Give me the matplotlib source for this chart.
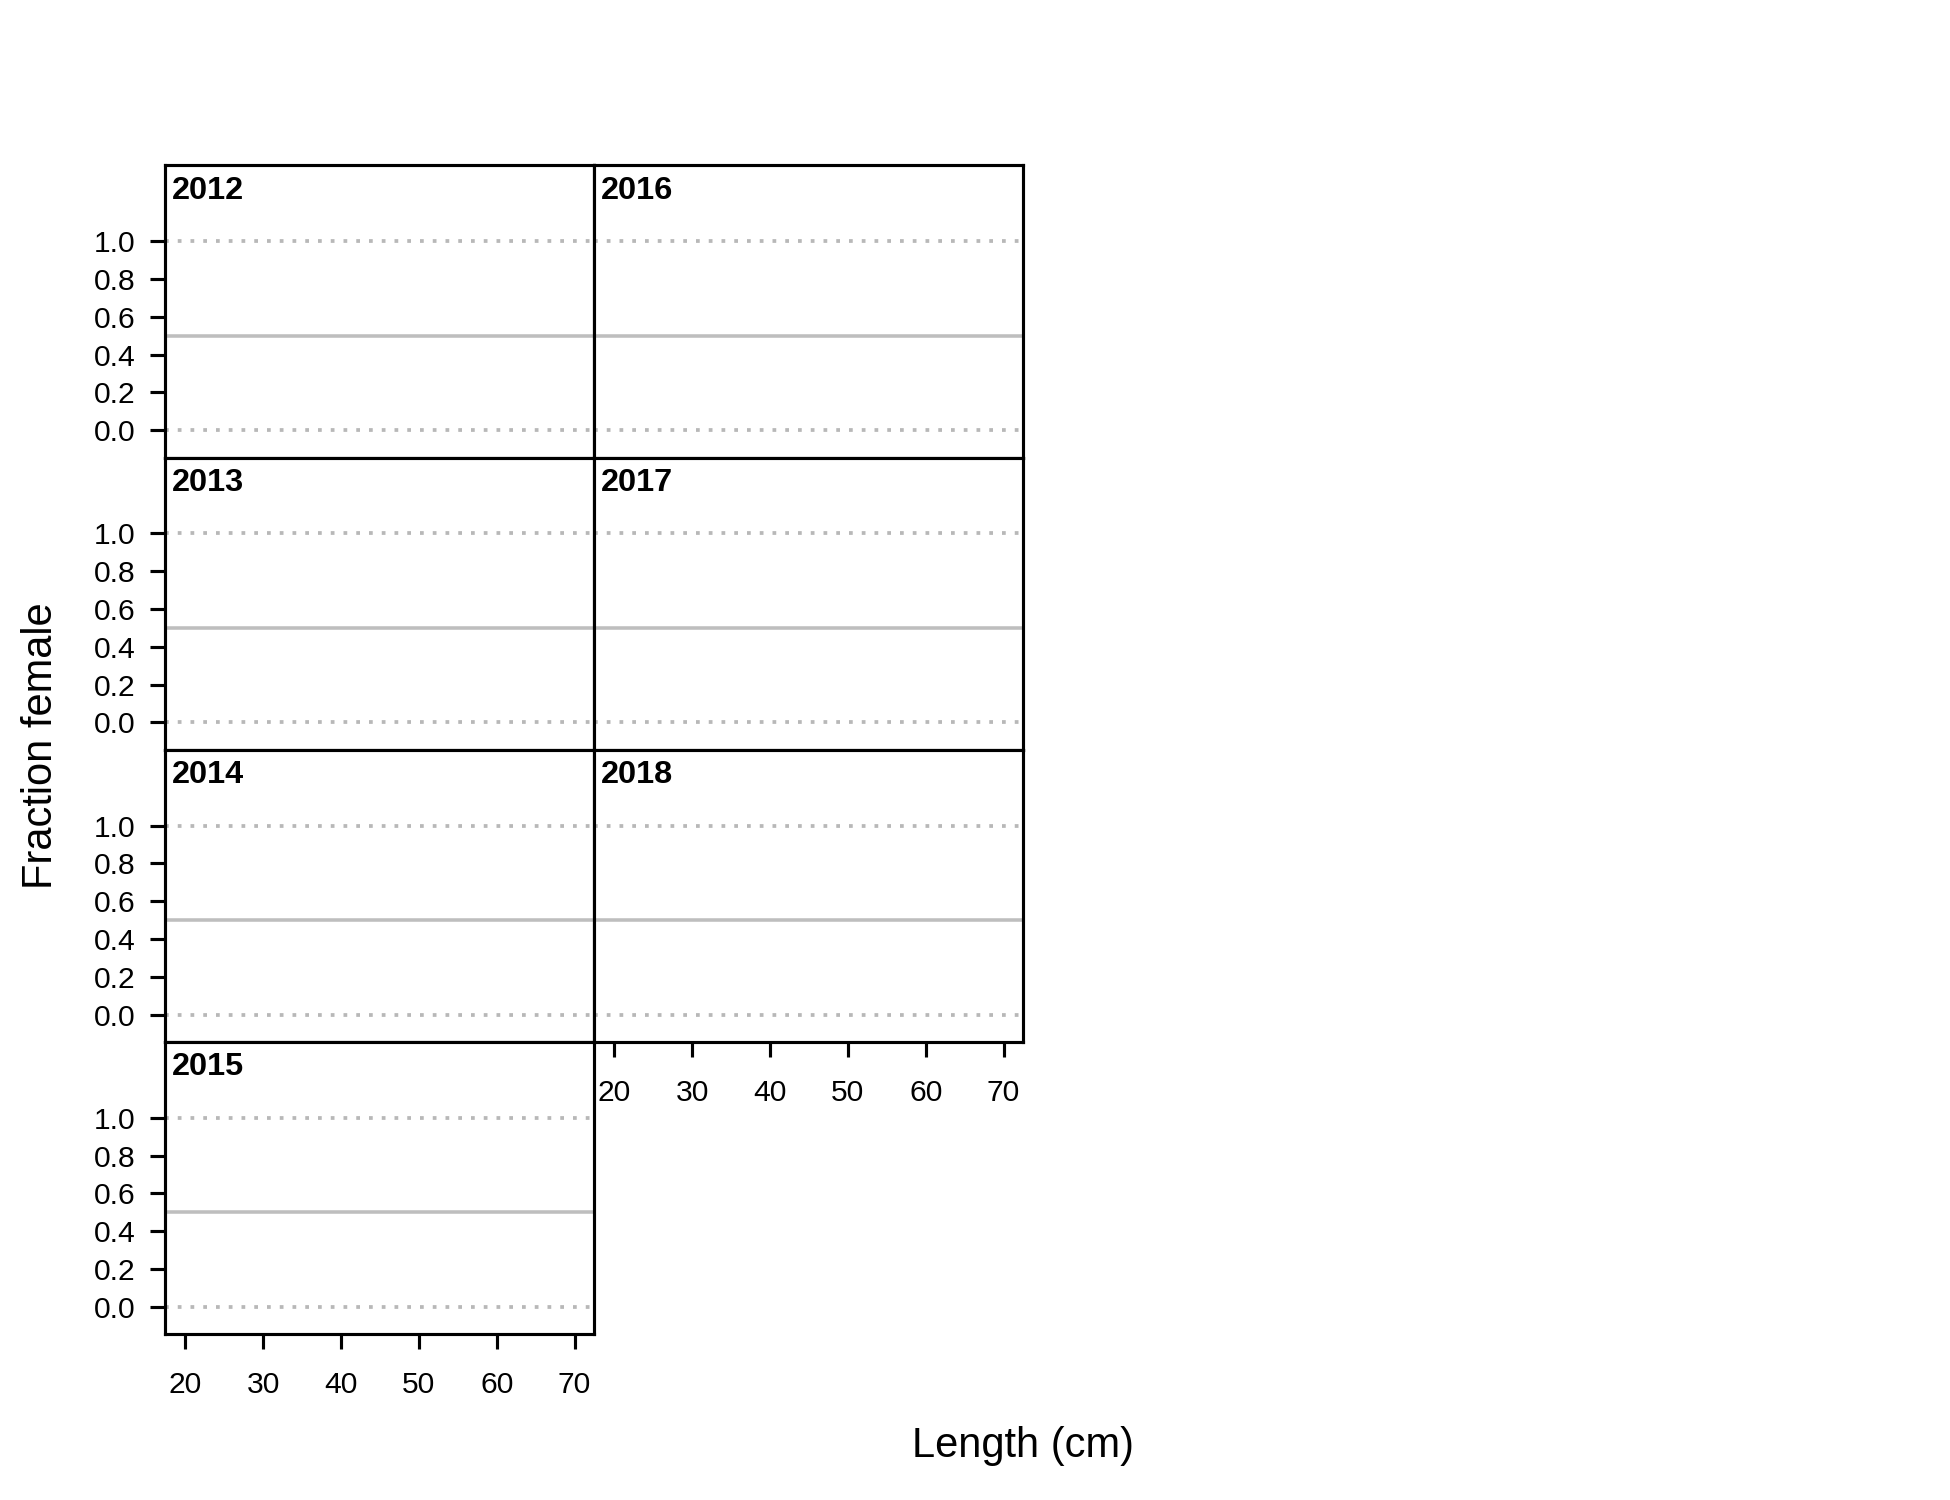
import numpy as np
import matplotlib.pyplot as plt

plt.rcParams['font.family'] = ['Liberation Sans', 'DejaVu Sans']

# panel years, laid out column by column
years_left = [2012, 2013, 2014, 2015]
years_right = [2016, 2017, 2018]

# reference lines drawn in every panel
ref_solid = [0.5]
ref_dotted = [0.0, 1.0]

y_ticks = [0.0, 0.2, 0.4, 0.6, 0.8, 1.0]
x_ticks = [20, 30, 40, 50, 60, 70]
x_lim = (17.46, 72.54)
y_lim = (-0.145, 1.40)

fig = plt.figure(figsize=(13, 10), dpi=150)

left0 = 165.4 / 1950
col_w = 429.0 / 1950
top0 = 1 - 165.4 / 1500
row_h = (1334.4 - 165.4) / 1500 / 4


def draw_panel(col, row, year, show_y, show_x):
    ax = fig.add_axes([left0 + col * col_w, top0 - (row + 1) * row_h, col_w, row_h])
    ax.set_xlim(*x_lim)
    ax.set_ylim(*y_lim)
    for v in ref_solid:
        ax.axhline(v, color='#bebebe', lw=1.7, zorder=1)
    for v in ref_dotted:
        ax.axhline(v, color='#b8b8b8', lw=1.8, linestyle=(0, (1, 2.4)), zorder=1)
    for s in ax.spines.values():
        s.set_linewidth(1.5)
    ax.tick_params(direction='out', length=7, width=1.5, labelsize=14.4)
    if show_y:
        ax.set_yticks(y_ticks)
        ax.set_yticklabels(['%.1f' % t for t in y_ticks])
        ax.tick_params(axis='y', pad=7.5)
    else:
        ax.set_yticks([])
    if show_x:
        ax.set_xticks(x_ticks)
        ax.tick_params(axis='x', pad=10.5)
    else:
        ax.set_xticks([])
    ax.text(0.016, 0.965, str(year), transform=ax.transAxes, ha='left', va='top',
            fontsize=15.6, fontweight='bold')
    return ax


for i, yr in enumerate(years_left):
    draw_panel(0, i, yr, True, i == len(years_left) - 1)
for i, yr in enumerate(years_right):
    draw_panel(1, i, yr, False, i == len(years_right) - 1)

fig.text(41 / 1950, 0.503, 'Fraction female', rotation=90, ha='center', va='center', fontsize=20)
fig.text(0.5245, 0.036, 'Length (cm)', ha='center', va='center', fontsize=20)

fig.savefig('out.png', dpi=150)
